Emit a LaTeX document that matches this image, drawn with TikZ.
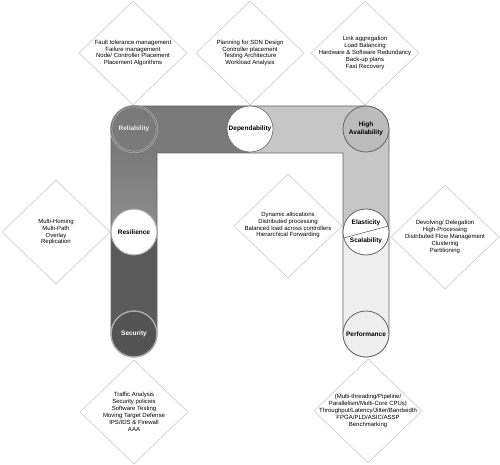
\documentclass[tikz,border=0pt]{standalone}
\usepackage{fontspec}
\setmainfont{Liberation Sans}
\usetikzlibrary{shapes.geometric}
\definecolor{gA}{HTML}{7A7A7A}
\definecolor{gB}{HTML}{8E8E8E}
\definecolor{gC}{HTML}{5A5A5A}
\definecolor{gD}{HTML}{C6C6C6}
\definecolor{gE}{HTML}{EFEFEF}
\definecolor{edge}{HTML}{666666}
\definecolor{diaedge}{HTML}{C4C4C4}
\tikzset{
  dia/.style={draw=diaedge, line width=0.5pt, diamond, minimum width=108pt, minimum height=104pt, inner sep=0pt},
  diatext/.style={font=\fontsize{6}{6.9}\selectfont, align=center, inner sep=0pt},
  circ/.style={circle, minimum size=46pt, inner sep=0pt, font=\fontsize{6.5}{7.6}\selectfont\bfseries, align=center},
  lbl/.style={inner sep=0pt, font=\fontsize{6.5}{7.6}\selectfont\bfseries},
  bandline/.style={draw=edge, line width=0.6pt}
}
\begin{document}
\begin{tikzpicture}[x=1pt,y=-1pt]
\useasboundingbox[fill=white] (0,0) rectangle (500,465);
% band fills
\fill[gA] (111,153) -- (111,129) arc[start angle=180, end angle=270, radius=23] -- (250,106) -- (250,153) -- cycle;
\shade[top color=gA, bottom color=gB] (111,152.5) rectangle (157,232);
\fill[gC] (111,232) -- (111,334) arc[start angle=180, end angle=0, radius=23] -- (157,232) -- cycle;
\fill[gD] (249,106) -- (366,106) arc[start angle=270, end angle=360, radius=23] -- (389,153) -- (249,153) -- cycle;
\fill[gD] (343,152.5) rectangle (389,232);
\fill[gE] (343,232) -- (343,334) arc[start angle=180, end angle=0, radius=23] -- (389,232) -- cycle;
% band outline
\draw[bandline] (157,153) -- (157,334) arc[start angle=0, end angle=180, radius=23] -- (111,129) arc[start angle=180, end angle=270, radius=23] -- (366,106) arc[start angle=270, end angle=360, radius=23] -- (389,334) arc[start angle=0, end angle=180, radius=23] -- (343,153) -- cycle;
% diamonds
\node[dia] (d1) at (133,53) {};
\node[diatext] (t1) at (d1) {Fault tolerance management\\Failure management\\Node/ Controller Placement\\Placement Algorithms};
\node[dia] (d2) at (250,53) {};
\node[diatext] (t2) at (d2) {Planning for SDN Design\\Controller placement\\Testing Architecture\\Workload Analysis};
\node[dia] (d3) at (365,53) {};
\node[diatext] (t3) at (d3) {Link aggregation\\Load Balancing\\Hardware \& Software Redundancy\\Back-up plans\\Fast Recovery};
\node[dia] (d4) at (56,232) {};
\node[diatext] (t4) at (d4) {Multi-Homing\\Multi-Path\\Overlay\\Replication};
\node[dia] (d5) at (288,226) {};
\node[diatext] (t5) at (288,225) {Dynamic allocations\\Distributed processing\\Balanced load across controllers\\Hierarchical Forwarding};
\node[dia] (d6) at (445,237) {};
\node[diatext] (t6) at (d6) {Devolving/ Delegation\\High-Processing\\Distributed Flow Management\\Clustering\\Partitioning};
\node[dia] (d7) at (134,412) {};
\node[diatext] (t7) at (d7) {Traffic Analysis\\Security policies\\Software Testing\\Moving Target Defense\\IPS/IDS \& Firewall\\AAA};
\node[dia] (d8) at (368,411) {};
\node[diatext] (t8) at (d8) {(Multi-threading/Pipeline/\\Parallelism/Multi-Core CPUs)\\Throughput/Latency/Jitter/Bandwidth\\FPGA/PLD/ASIC/ASSP\\Benchmarking};
% circles
\node[circ, fill=gA, draw=gray!45, double=gA, double distance=1.2pt, text=white!92!black] (rel) at (134,129) {Reliability};
\node[circ, fill=white, draw=edge, line width=0.6pt] (dep) at (250,129) {Dependability};
\node[circ, fill=gD!95!black, draw=edge, line width=0.8pt] (ha) at (366,129) {High\\Availability};
\node[circ, fill=white, draw=gray!70, line width=1pt] (res) at (134,232) {Resilience};
\node[circ, fill=white, draw=edge, line width=0.8pt] (el) at (366,232) {};
\draw[edge, line width=0.6pt] (el.195) -- (el.15);
\node[lbl] (elt) at (366,223) {Elasticity};
\node[lbl] (sct) at (366,241) {Scalability};
\node[circ, fill=gC!92!black, draw=gray!65, line width=1.4pt, text=white] (sec) at (134,334) {Security};
\node[circ, fill=gE, draw=edge, line width=0.8pt] (perf) at (366,334) {Performance};
\end{tikzpicture}
\end{document}
